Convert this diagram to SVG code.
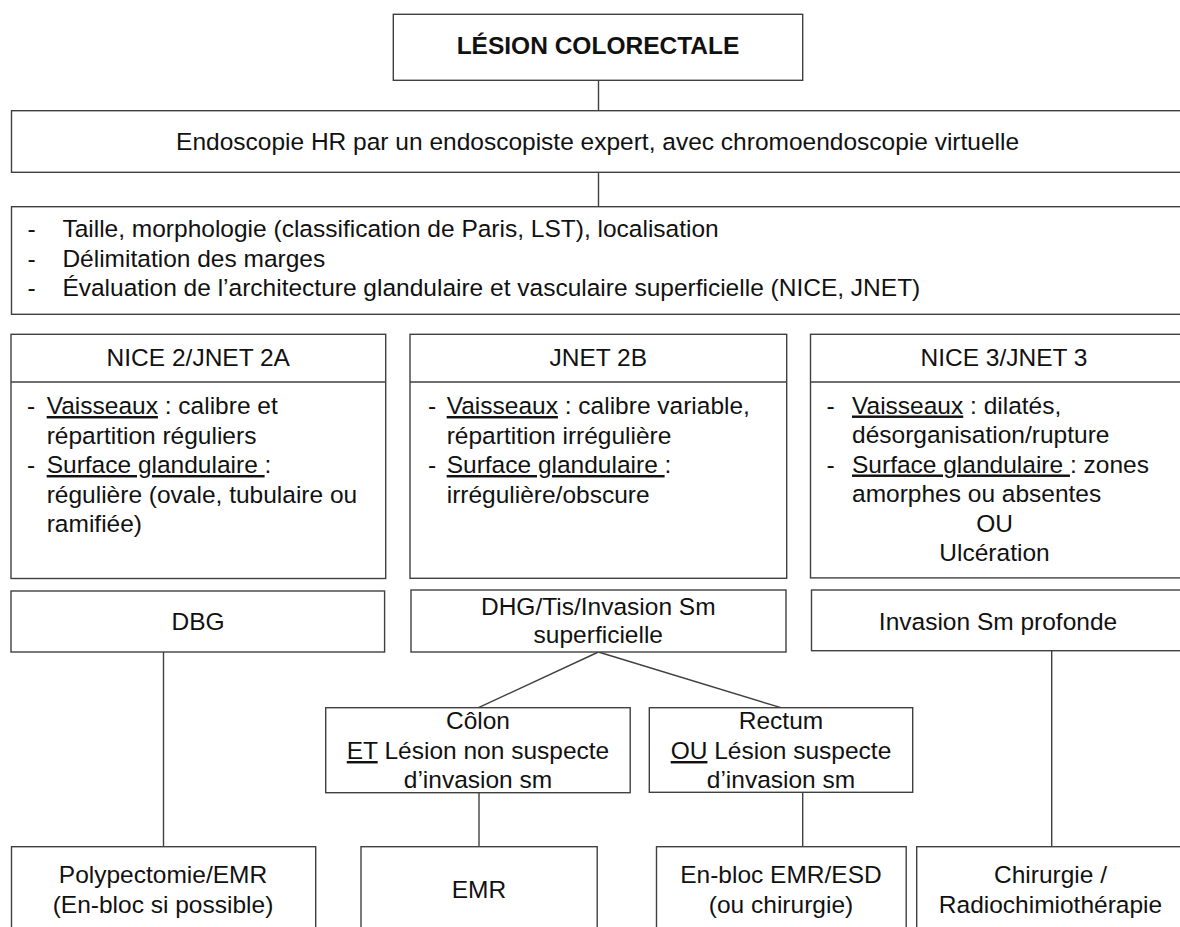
<svg xmlns="http://www.w3.org/2000/svg" width="1180" height="927" viewBox="0 0 1180 927">
<style>
.b{fill:#fff;stroke:#404040;stroke-width:1.4}
.c line{fill:none;stroke:#404040;stroke-width:1.4}
text{font-family:"Liberation Sans",Arial,Helvetica,sans-serif;font-size:24.5px;fill:#111}
.m{text-anchor:middle}
.bold{font-weight:bold}
.u{text-decoration:underline}
</style>
<rect width="1180" height="927" fill="#fff"/>
<g id="connectors" class="c">
<line x1="598.5" y1="80.3" x2="598.5" y2="110.7"/>
<line x1="598.5" y1="172.3" x2="598.5" y2="206.7"/>
<line x1="163.5" y1="652" x2="163.5" y2="846.7"/>
<line x1="598.4" y1="652" x2="478.5" y2="707.7"/>
<line x1="598.4" y1="652" x2="781" y2="707.7"/>
<line x1="479" y1="792.5" x2="479" y2="846.7"/>
<line x1="802.7" y1="792.5" x2="802.7" y2="846.7"/>
<line x1="1051.7" y1="650.7" x2="1051.7" y2="846.7"/>
</g>
<g id="lesion">
<rect class="b" x="393.3" y="14.3" width="409.4" height="66"/>
<text class="m bold" x="598" y="54">LÉSION COLORECTALE</text>
</g>
<g id="endoscopie">
<rect class="b" x="11.5" y="110.7" width="1180" height="61.6"/>
<text class="m" x="597.6" y="150">Endoscopie HR par un endoscopiste expert, avec chromoendoscopie virtuelle</text>
</g>
<g id="criteres">
<rect class="b" x="11.5" y="206.7" width="1180" height="107.6"/>
<text x="27.5" y="237.3">-</text><text x="62.4" y="237.3">Taille, morphologie (classification de Paris, LST), localisation</text>
<text x="27.5" y="266.8">-</text><text x="62.4" y="266.8">Délimitation des marges</text>
<text x="27.5" y="296.3">-</text><text x="62.4" y="296.3">Évaluation de l’architecture glandulaire et vasculaire superficielle (NICE, JNET)</text>
</g>
<g id="nice2">
<rect class="b" x="11" y="334.3" width="374.7" height="244.2"/>
<line x1="11" y1="382" x2="385.7" y2="382" stroke="#404040" stroke-width="1.4"/>
<text class="m" x="198.3" y="365.7">NICE 2/JNET 2A</text>
<text x="27" y="414">-</text><text x="46.7" y="414"><tspan class="u">Vaisseaux</tspan> : calibre et</text>
<text x="46.7" y="443.5">répartition réguliers</text>
<text x="27" y="473">-</text><text x="46.7" y="473"><tspan class="u">Surface glandulaire </tspan>:</text>
<text x="46.7" y="502.5">régulière (ovale, tubulaire ou</text>
<text x="46.7" y="532">ramifiée)</text>
</g>
<g id="jnet2b">
<rect class="b" x="410" y="334.3" width="376.7" height="244"/>
<line x1="410" y1="382" x2="786.7" y2="382" stroke="#404040" stroke-width="1.4"/>
<text class="m" x="598.3" y="365.7">JNET 2B</text>
<text x="428" y="414">-</text><text x="446.7" y="414"><tspan class="u">Vaisseaux</tspan> : calibre variable,</text>
<text x="446.7" y="443.5">répartition irrégulière</text>
<text x="428" y="473">-</text><text x="446.7" y="473"><tspan class="u">Surface glandulaire </tspan>:</text>
<text x="446.7" y="502.5">irrégulière/obscure</text>
</g>
<g id="nice3">
<rect class="b" x="810.5" y="334.3" width="400" height="243.6"/>
<line x1="810.5" y1="382" x2="1180" y2="382" stroke="#404040" stroke-width="1.4"/>
<text class="m" x="1004" y="365.7">NICE 3/JNET 3</text>
<text x="826.5" y="413.5">-</text><text x="852" y="413.5"><tspan class="u">Vaisseaux</tspan> : dilatés,</text>
<text x="852" y="443">désorganisation/rupture</text>
<text x="826.5" y="472.5">-</text><text x="852" y="472.5"><tspan class="u">Surface glandulaire </tspan>: zones</text>
<text x="852" y="502">amorphes ou absentes</text>
<text class="m" x="994.5" y="531.5">OU</text>
<text class="m" x="994.5" y="561">Ulcération</text>
</g>
<g id="dbg">
<rect class="b" x="11" y="591" width="373.6" height="61"/>
<text class="m" x="198" y="630">DBG</text>
</g>
<g id="dhg">
<rect class="b" x="411" y="590" width="375" height="62"/>
<text class="m" x="598.3" y="615">DHG/Tis/Invasion Sm</text>
<text class="m" x="598.3" y="643.3">superficielle</text>
</g>
<g id="invasion">
<rect class="b" x="811.5" y="590" width="400" height="60.7"/>
<text class="m" x="998" y="629.5">Invasion Sm profonde</text>
</g>
<g id="colon">
<rect class="b" x="325.7" y="707.7" width="304.5" height="85"/>
<text class="m" x="478" y="729.3">Côlon</text>
<text class="m" x="478" y="759"><tspan class="u">ET</tspan> Lésion non suspecte</text>
<text class="m" x="478" y="787.7">d’invasion sm</text>
</g>
<g id="rectum">
<rect class="b" x="649.3" y="707.7" width="263.4" height="84.6"/>
<text class="m" x="781" y="729.3">Rectum</text>
<text class="m" x="781" y="759"><tspan class="u">OU</tspan> Lésion suspecte</text>
<text class="m" x="781" y="787.7">d’invasion sm</text>
</g>
<g id="polypectomie">
<rect class="b" x="11.5" y="846.7" width="304.2" height="100"/>
<text class="m" x="163" y="883.3">Polypectomie/EMR</text>
<text class="m" x="163" y="913">(En-bloc si possible)</text>
</g>
<g id="emr">
<rect class="b" x="361" y="846.7" width="236.2" height="100"/>
<text class="m" x="479" y="898.3">EMR</text>
</g>
<g id="enbloc">
<rect class="b" x="656.5" y="846.7" width="249.7" height="100"/>
<text class="m" x="781" y="883.3">En-bloc EMR/ESD</text>
<text class="m" x="781" y="913">(ou chirurgie)</text>
</g>
<g id="chirurgie">
<rect class="b" x="916.7" y="846.7" width="300" height="100"/>
<text class="m" x="1050.5" y="883.3">Chirurgie /</text>
<text class="m" x="1050.5" y="913">Radiochimiothérapie</text>
</g>
</svg>
